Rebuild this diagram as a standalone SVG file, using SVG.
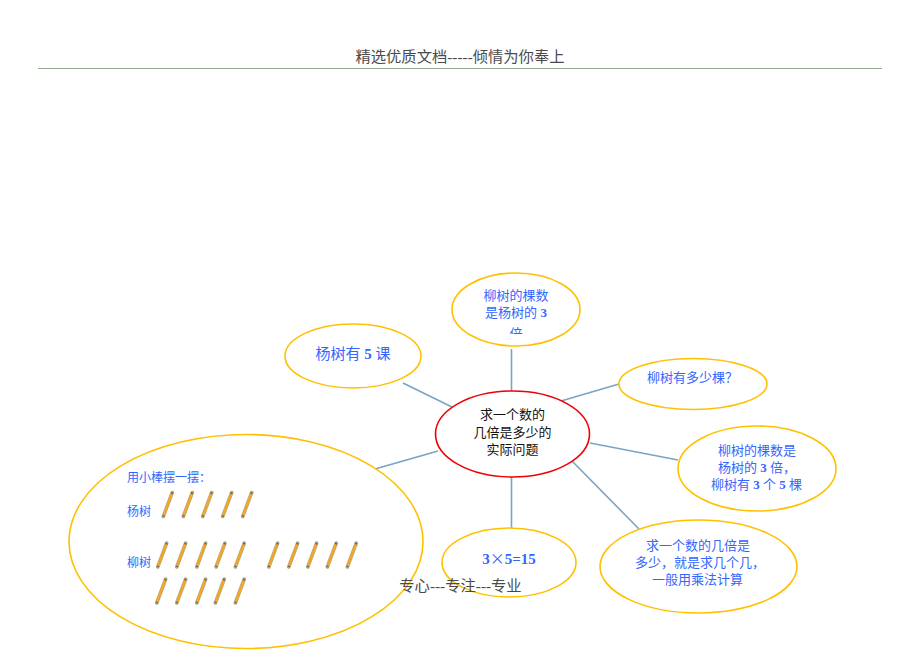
<svg xmlns="http://www.w3.org/2000/svg" width="920" height="651" viewBox="0 0 920 651">
<style>
text{font-family:"Liberation Serif","Noto Sans CJK SC",serif;font-size:13px;fill:#3366ff}
.m{text-anchor:middle}
.k{fill:#111}
.h{fill:#4a4a4a;font-size:15.3px}
.b{font-weight:bold}
.o{fill:#fff;stroke:#ffc000;stroke-width:1.6}
.c{fill:#fff;stroke:#f00000;stroke-width:1.6}
.l{stroke:#7ba3c4;stroke-width:1.6;fill:none}
.s1{stroke:#b3aa88;stroke-width:3.6;stroke-linecap:round}
.s2{stroke:#f5a623;stroke-width:2.2}
.s3{stroke:#6b6650;stroke-width:2.2}
</style>
<defs>
<g id="stick">
<line class="s1" x1="0" y1="0" x2="9" y2="-24"/>
<line class="s2" x1="0.4" y1="-1" x2="8.6" y2="-23"/>
<line class="s3" x1="8.4" y1="-22.6" x2="9" y2="-24"/>
<line class="s3" x1="0" y1="0" x2="0.5" y2="-1.2"/>
</g>
<clipPath id="cut"><rect x="440" y="270" width="150" height="64"/></clipPath>
</defs>
<g id="page-header">
<text class="h m" x="460" y="62">精选优质文档-----倾情为你奉上</text>
<line x1="38" y1="68.5" x2="882" y2="68.5" stroke="#93ab93" stroke-width="1"/>
</g>
<g id="connectors">
<line class="l" x1="511.500" y1="349" x2="511.500" y2="391"/>
<line class="l" x1="403" y1="383" x2="452" y2="407"/>
<line class="l" x1="561" y1="401" x2="619" y2="384"/>
<line class="l" x1="590" y1="443" x2="678" y2="460"/>
<line class="l" x1="572" y1="461" x2="639" y2="529"/>
<line class="l" x1="511.500" y1="477" x2="511.500" y2="528"/>
<line class="l" x1="375" y1="469" x2="438" y2="451"/>
</g>
<g id="node-center">
<ellipse class="c" cx="512.500" cy="434" rx="77" ry="43"/>
<text class="k m" x="512.500" y="419">求一个数的</text>
<text class="k m" x="512.500" y="437">几倍是多少的</text>
<text class="k m" x="512.500" y="454">实际问题</text>
</g>
<g id="node-top">
<ellipse class="o" cx="516" cy="309.500" rx="64" ry="36.500"/>
<text class="m" x="516" y="300">柳树的棵数</text>
<text class="m" x="516" y="317">是杨树的 <tspan class="b">3</tspan></text>
<text class="m" x="516" y="338" clip-path="url(#cut)">倍</text>
</g>
<g id="node-poplar">
<ellipse class="o" cx="353" cy="356" rx="68" ry="32"/>
<text class="m" x="353" y="359" style="font-size:15px">杨树有 <tspan class="b">5</tspan> 课</text>
</g>
<g id="node-question">
<ellipse class="o" cx="693" cy="384" rx="74" ry="25.500"/>
<text x="647" y="382">柳树有多少棵？</text>
</g>
<g id="node-relation">
<ellipse class="o" cx="757" cy="468.500" rx="79" ry="42.500"/>
<text x="718" y="455">柳树的棵数是</text>
<text x="718" y="472">杨树的 <tspan class="b">3</tspan> 倍，</text>
<text x="711" y="489">柳树有 <tspan class="b">3</tspan> 个 <tspan class="b">5</tspan> 棵</text>
</g>
<g id="node-rule">
<ellipse class="o" cx="698.500" cy="566.500" rx="98.500" ry="46.500"/>
<text x="646" y="550">求一个数的几倍是</text>
<text x="635" y="567">多少，就是求几个几，</text>
<text x="652" y="584">一般用乘法计算</text>
</g>
<g id="node-equation">
<ellipse class="o" cx="509" cy="562.500" rx="67" ry="34.500"/>
<text class="m b" x="509" y="564" style="font-size:15px">3<tspan style="font-family:'Noto Sans CJK SC',sans-serif;font-weight:normal">×</tspan>5=15</text>
</g>
<g id="node-sticks">
<ellipse class="o" cx="246" cy="541.500" rx="177" ry="107"/>
<text x="127" y="482" style="font-size:12px">用小棒摆一摆：</text>
<text x="127" y="516" style="font-size:12px">杨树</text>
<text x="127" y="567" style="font-size:12px">柳树</text>
<use href="#stick" x="163.300" y="516.500"/>
<use href="#stick" x="183.300" y="516.500"/>
<use href="#stick" x="202.700" y="516.500"/>
<use href="#stick" x="222.700" y="516.500"/>
<use href="#stick" x="242.700" y="516.500"/>
<use href="#stick" x="157.700" y="567"/>
<use href="#stick" x="176.700" y="567"/>
<use href="#stick" x="196.700" y="567"/>
<use href="#stick" x="216" y="567"/>
<use href="#stick" x="235.300" y="567"/>
<use href="#stick" x="268.700" y="567"/>
<use href="#stick" x="288.700" y="567"/>
<use href="#stick" x="307.700" y="567"/>
<use href="#stick" x="327.300" y="567"/>
<use href="#stick" x="347.300" y="567"/>
<use href="#stick" x="156.700" y="603"/>
<use href="#stick" x="176.700" y="603"/>
<use href="#stick" x="196.700" y="603"/>
<use href="#stick" x="215.300" y="603"/>
<use href="#stick" x="235.300" y="603"/>
</g>
<g id="page-footer">
<text class="h m" x="460.500" y="591">专心---专注---专业</text>
</g>
</svg>
